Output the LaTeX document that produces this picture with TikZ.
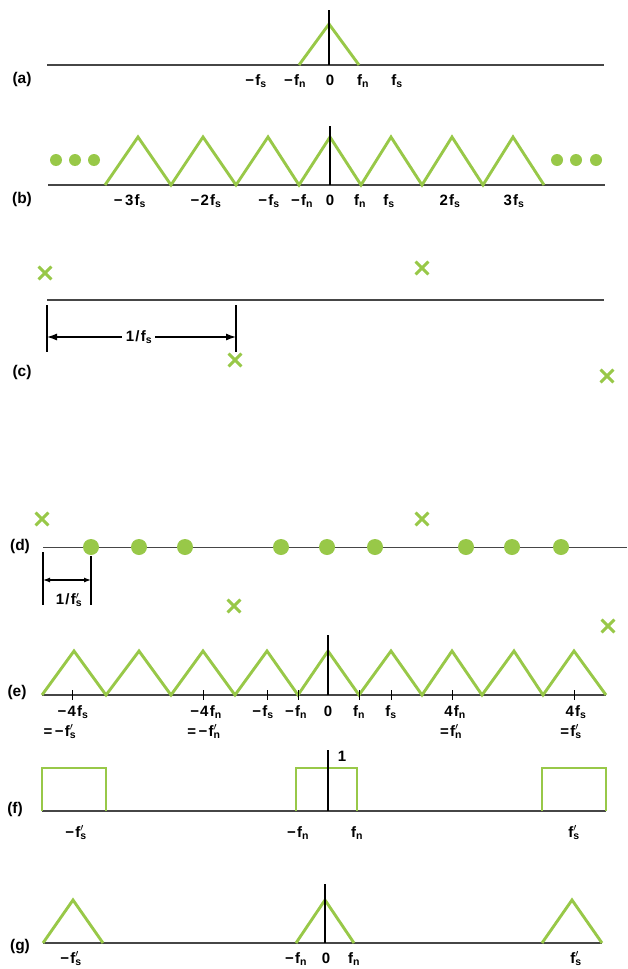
\documentclass[tikz,border=0pt]{standalone}
\usepackage{fontspec}
\setmainfont{Liberation Sans}
\usetikzlibrary{arrows.meta,shapes.misc}
\definecolor{grn}{RGB}{152,200,72}
\definecolor{axc}{RGB}{70,70,70}
\newcommand\fS{f\textsubscript{s}}
\newcommand\fN{f\textsubscript{n}}
\newcommand\fSp{f\rlap{\textsuperscript{$\prime$}}\textsubscript{s}}
\newcommand\fNp{f\rlap{\textsuperscript{$\prime$}}\textsubscript{n}}
\begin{document}
\begin{tikzpicture}[x=1pt,y=-1pt,
  ax/.style={draw=axc,line width=1.2pt},
  sig/.style={draw=grn,line width=2.9pt},
  vline/.style={draw=black,line width=1.1pt},
  dimline/.style={draw=black,line width=1.2pt},
  lbl/.style={font=\bfseries\fontsize{15}{17}\selectfont\addfontfeature{LetterSpace=8},inner sep=0pt,anchor=base},
  tag/.style={font=\bfseries\fontsize{15.5}{17}\selectfont,inner sep=0pt},
  xm/.style={cross out,draw=grn,line width=2.9pt,minimum size=10pt,inner sep=0pt},
  dotb/.style={circle,fill=grn,minimum size=12pt,inner sep=0pt},
  dotd/.style={circle,fill=grn,minimum size=16pt,inner sep=0pt},
  tick/.style={draw=black,line width=1pt},
  tip/.style={-{Latex[length=10pt,width=7pt]}},
  tipsmall/.style={{Latex[length=7pt,width=5pt]}-{Latex[length=7pt,width=5pt]}}
]
\useasboundingbox (0,0) rectangle (627,969);

% ---------- (a)
\node[tag] (ta) at (22,79) {(a)};
\draw[ax] (47,65) -- (604,65);
\draw[sig] (299,65) -- (329,24) -- (359,65);
\draw[vline] (329,10) -- (329,65);
\node[lbl] (a1) at (256,85) {−\fS};
\node[lbl] (a2) at (295,85) {−\fN};
\node[lbl] (a3) at (330,85) {0};
\node[lbl] (a4) at (363,85) {\fN};
\node[lbl] (a5) at (397,85) {\fS};

% ---------- (b)
\node[tag] (tb) at (22,199) {(b)};
\draw[ax] (48,185) -- (605,185);
\draw[sig] (105,185) -- (138,137) -- (171,185) -- (203,137) -- (236,185) -- (268,137)
  -- (299,185) -- (330,137) -- (361,185) -- (391,137) -- (422,185) -- (452,137)
  -- (483,185) -- (513,137) -- (544,185);
\draw[vline] (330,126) -- (330,185);
\foreach \x [count=\i] in {56,75,94,557,576,596}
  \node[dotb] (bd\i) at (\x,160) {};
\node[lbl] (b1) at (130,205) {−\,3\fS};
\node[lbl] (b2) at (206,205) {−2\fS};
\node[lbl] (b3) at (269,205) {−\fS};
\node[lbl] (b4) at (302,205) {−\fN};
\node[lbl] (b5) at (330,205) {0};
\node[lbl] (b6) at (360,205) {\fN};
\node[lbl] (b7) at (389,205) {\fS};
\node[lbl] (b8) at (450,205) {2\fS};
\node[lbl] (b9) at (514,205) {3\fS};

% ---------- (c)
\node[tag] (tc) at (22,372) {(c)};
\draw[ax] (47,300) -- (604,300);
\coordinate (cl) at (47,337);
\coordinate (cr) at (236,337);
\draw[dimline] (47,305) -- (47,352);
\draw[dimline] (236,305) -- (236,352);
\node[lbl,anchor=center] (lc) at (139,337) {1/\fS};
\draw[dimline,tip] ([xshift=-4pt]lc.west) -- (cl);
\draw[dimline,tip] ([xshift=3pt]lc.east) -- (cr);
\node[xm] (xc1) at (45,273) {};
\node[xm] (xc2) at (422,268) {};
\node[xm] (xc3) at (235,360) {};
\node[xm] (xc4) at (607,376) {};

% ---------- (d)
\node[tag] (td) at (20,546) {(d)};
\draw[ax,line width=1pt] (43,547) -- (627,547);
\foreach \x [count=\i] in {91,139,185,281,327,375,466,512,561}
  \node[dotd] (dd\i) at (\x,547) {};
\node[xm] (xd1) at (42,519) {};
\node[xm] (xd2) at (422,519) {};
\node[xm] (xd3) at (234,606) {};
\node[xm] (xd4) at (608,626) {};
\coordinate (dl) at (43,580);
\coordinate (dr) at (91,580);
\draw[dimline] (43,552) -- (43,605);
\draw[dimline] (91,556) -- (91,605);
\draw[dimline,tipsmall] (dl) -- (dr);
\node[lbl,anchor=center] (ld) at (69,600) {1/\fSp};

% ---------- (e)
\node[tag] (te) at (17,692) {(e)};
\draw[ax] (42,695) -- (606,695);
\draw[sig] (42,695) -- (74,651) -- (106,695) -- (139,651) -- (171,695) -- (203,651)
  -- (235,695) -- (267,651) -- (298,695) -- (328,651) -- (359,695) -- (391,651)
  -- (422,695) -- (452,651) -- (482,695) -- (514,651) -- (543,695) -- (574,651) -- (606,695);
\draw[vline] (328,635) -- (328,695);
\foreach \x in {72,203,267,298,359,391,452,574}
  \draw[tick] (\x,690) -- (\x,700);
\node[lbl] (e1) at (73,716) {−4\fS};
\node[lbl] (e2) at (206,716) {−4\fN};
\node[lbl] (e3) at (263,716) {−\fS};
\node[lbl] (e4) at (296,716) {−\fN};
\node[lbl] (e5) at (328,716) {0};
\node[lbl] (e6) at (359,716) {\fN};
\node[lbl] (e7) at (391,716) {\fS};
\node[lbl] (e8) at (455,716) {4\fN};
\node[lbl] (e9) at (576,716) {4\fS};
\node[lbl] (e10) at (60,736) {=\,−\fSp};
\node[lbl] (e11) at (204,736) {=\,−\fNp};
\node[lbl] (e12) at (451,736) {=\fNp};
\node[lbl] (e13) at (571,736) {=\fSp};

% ---------- (f)
\node[tag] (tf) at (15,809) {(f)};
\draw[ax] (42,811) -- (606,811);
\draw[sig] (42,811) -- (42,768) -- (106,768) -- (106,811);
\draw[sig] (296,811) -- (296,768) -- (357,768) -- (357,811);
\draw[sig] (542,811) -- (542,768) -- (606,768) -- (606,811);
\draw[vline] (328,750) -- (328,811);
\node[lbl] (f0) at (342,761) {1};
\node[lbl] (f1) at (76,837) {−\fSp};
\node[lbl] (f2) at (298,837) {−\fN};
\node[lbl] (f3) at (357,837) {\fN};
\node[lbl] (f4) at (574,837) {\fSp};

% ---------- (g)
\node[tag] (tg) at (20,947) {(g)};
\draw[ax] (43,943) -- (602,943);
\draw[sig] (43,943) -- (73,900) -- (103,943);
\draw[sig] (296,943) -- (325,900) -- (354,943);
\draw[sig] (542,943) -- (572,900) -- (602,943);
\draw[vline] (325,884) -- (325,943);
\node[lbl] (g1) at (71,963) {−\fSp};
\node[lbl] (g2) at (296,963) {−\fN};
\node[lbl] (g3) at (326,963) {0};
\node[lbl] (g4) at (354,963) {\fN};
\node[lbl] (g5) at (576,963) {\fSp};
\end{tikzpicture}
\end{document}
